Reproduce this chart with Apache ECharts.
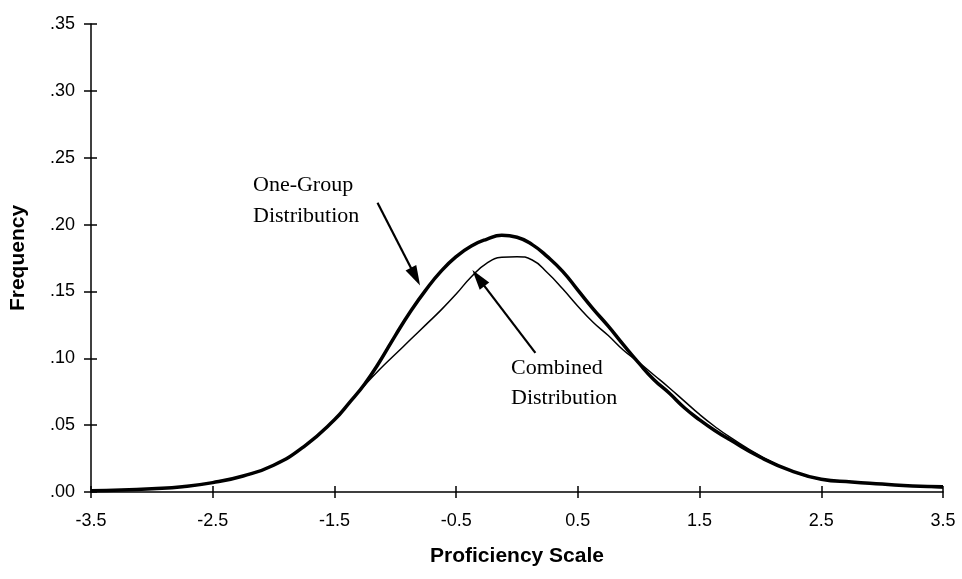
<!DOCTYPE html>
<html>
<head>
<meta charset="utf-8">
<script src="https://cdn.jsdelivr.net/npm/echarts@6/dist/echarts.min.js"></script>
<style>
 html, body { margin: 0; padding: 0; background: #fff; }
 #chart { width: 962px; height: 579px; }
</style>
</head>
<body>
<div id="chart"></div>
<script>
// proficiency scale points (finer near the peak)
const scalePoints = [-3.5, -3.25, -3.0, -2.75, -2.5, -2.25, -2.0, -1.75, -1.5, -1.375, -1.25, -1.125, -1.0, -0.875,
 -0.75, -0.625, -0.5, -0.375, -0.25, -0.125, 0.0, 0.125, 0.25, 0.375, 0.5, 0.625, 0.75, 0.875, 1.0, 1.125, 1.25,
 1.375, 1.5, 1.625, 1.75, 2.0, 2.25, 2.5, 2.75, 3.0, 3.25, 3.5]
const oneGroup = [0.001, 0.0015, 0.0025, 0.004, 0.007, 0.012, 0.020, 0.034, 0.054, 0.067, 0.081, 0.098, 0.117, 0.135,
 0.151, 0.165, 0.176, 0.184, 0.189, 0.192, 0.1905, 0.185, 0.176, 0.165, 0.151, 0.137, 0.124, 0.110, 0.0965, 0.084, 0.074,
 0.063, 0.054, 0.046, 0.039, 0.026, 0.016, 0.0095, 0.0075, 0.006, 0.0045, 0.004]
const combined = [0.001, 0.0015, 0.0025, 0.004, 0.007, 0.012, 0.020, 0.034, 0.054, 0.067, 0.080, 0.092, 0.103, 0.114,
 0.125, 0.136, 0.148, 0.161, 0.171, 0.1755, 0.176, 0.1735, 0.164, 0.152, 0.139, 0.127, 0.117, 0.106, 0.097, 0.0875, 0.078,
 0.068, 0.058, 0.049, 0.041, 0.027, 0.016, 0.0095, 0.0075, 0.006, 0.0045, 0.003]
const xTicks = [-3.5, -2.5, -1.5, -0.5, 0.5, 1.5, 2.5, 3.5]

const chart = echarts.init(document.getElementById('chart'))
const tickFont = { fontFamily: 'Liberation Sans', fontSize: 18, color: '#000' }

const toPairs = (ys) => scalePoints.map((x, i) => [x, ys[i]])

const option = {
 animation: false,
 backgroundColor: '#fff',
 grid: { left: 90, right: 19, top: 24, bottom: 87 },
 xAxis: [
  {
   type: 'value', min: -3.5, max: 3.5,
   name: 'Proficiency Scale', nameLocation: 'middle', nameGap: 54,
   nameTextStyle: { fontFamily: 'Liberation Sans', fontWeight: 'bold', fontSize: 21, color: '#000' },
   axisLine: { show: true, onZero: false, lineStyle: { color: '#000', width: 1.5 } },
   axisTick: { show: true, length: 6, customValues: xTicks, lineStyle: { color: '#000', width: 1.5 } },
   axisLabel: Object.assign({ margin: 20, customValues: xTicks, formatter: v => String(v) }, tickFont),
   splitLine: { show: false }
  },
  {
   type: 'value', min: -3.5, max: 3.5, position: 'bottom',
   axisLine: { show: false, onZero: false },
   axisTick: { show: true, inside: true, length: 6, customValues: xTicks, lineStyle: { color: '#000', width: 1.5 } },
   axisLabel: { show: false, customValues: xTicks },
   splitLine: { show: false }
  }
 ],
 yAxis: [
  {
   type: 'value', min: 0, max: 0.35, interval: 0.05,
   name: 'Frequency', nameLocation: 'middle', nameGap: 62,
   nameTextStyle: { fontFamily: 'Liberation Sans', fontWeight: 'bold', fontSize: 21, color: '#000' },
   axisLine: { show: true, onZero: false, lineStyle: { color: '#000', width: 1.5 } },
   axisTick: { show: true, length: 7, lineStyle: { color: '#000', width: 1.5 } },
   axisLabel: Object.assign({ margin: 16, formatter: v => v.toFixed(2).replace(/^0/, '') }, tickFont),
   splitLine: { show: false }
  },
  {
   type: 'value', min: 0, max: 0.35, interval: 0.05, position: 'left',
   axisLine: { show: false, onZero: false },
   axisTick: { show: true, inside: true, length: 6, lineStyle: { color: '#000', width: 1.5 } },
   axisLabel: { show: false },
   splitLine: { show: false }
  }
 ],
 series: [
  {
   name: 'One-Group Distribution',
   type: 'line', smooth: 0.5, symbol: 'none',
   lineStyle: { color: '#000', width: 3.5 },
   data: toPairs(oneGroup)
  },
  {
   name: 'Combined Distribution',
   type: 'line', smooth: 0.5, symbol: 'none',
   lineStyle: { color: '#000', width: 1.5 },
   data: toPairs(combined),
   markLine: {
    silent: true,
    animation: false,
    label: { show: false },
    lineStyle: { color: '#000', width: 2.2, type: 'solid' },
    symbolSize: [12, 20],
    data: [
     [{ coord: [-1.146, 0.2163], symbol: 'none' }, { coord: [-0.834, 0.161], symbol: 'triangle' }],
     [{ coord: [0.151, 0.104], symbol: 'none' }, { coord: [-0.317, 0.160], symbol: 'triangle' }]
    ]
   }
  }
 ],
 graphic: [
  {
   type: 'text', x: 253, y: 170,
   style: { text: 'One-Group\nDistribution', font: '22px "Liberation Serif"', lineHeight: 31, fill: '#000' }
  },
  {
   type: 'text', x: 511, y: 353,
   style: { text: 'Combined\nDistribution', font: '22px "Liberation Serif"', lineHeight: 30, fill: '#000' }
  }
 ]
}

chart.setOption(option)
</script>
</body>
</html>
